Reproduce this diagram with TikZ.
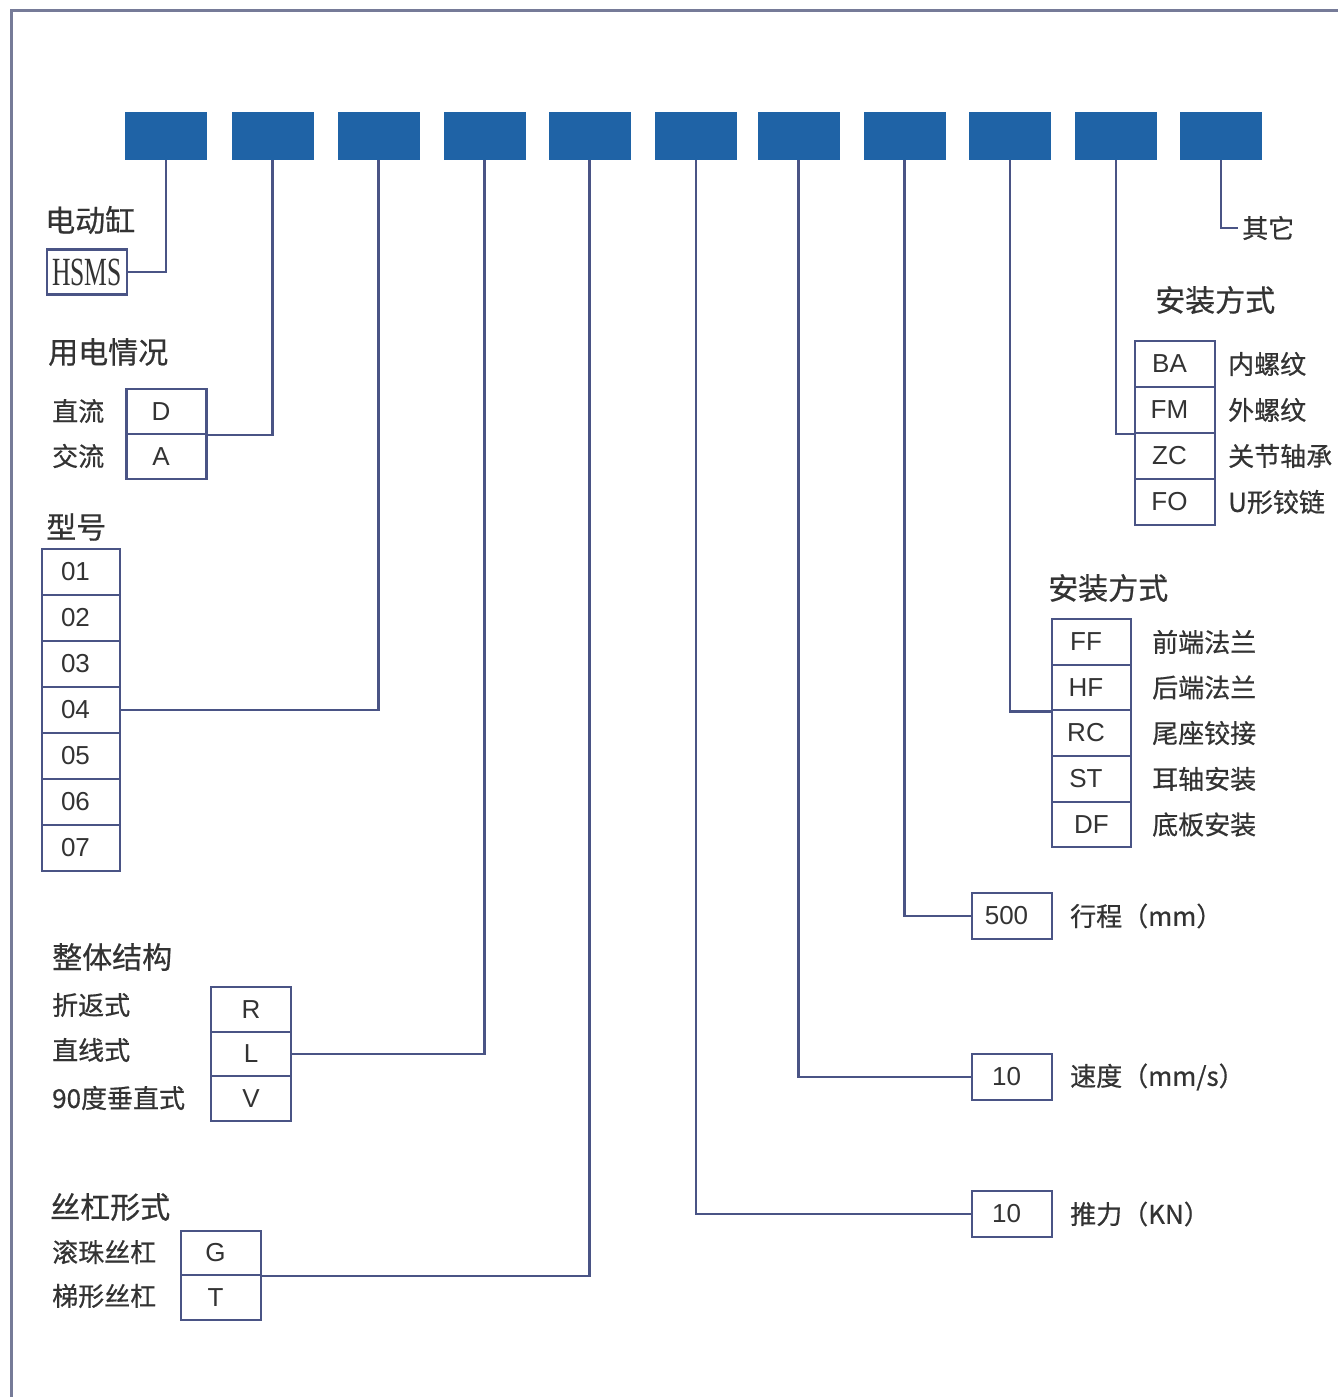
\documentclass[tikz,border=0pt]{standalone}
\usepackage{fontspec}
\usepackage{graphicx}
\setmainfont{Liberation Sans}
\newfontfamily\cjk[FakeBold=0.6]{Noto Sans CJK SC}
\newfontfamily\serifx{Liberation Serif}
\definecolor{blueC}{HTML}{1F63A6}
\definecolor{lineC}{HTML}{4A5485}
\definecolor{frameC}{HTML}{767B98}
\definecolor{txtC}{HTML}{333333}
\begin{document}
\begin{tikzpicture}[x=1pt,y=-1pt,
  blk/.style={fill=blueC, draw=none, minimum width=82pt, minimum height=48pt, inner sep=0pt},
  opt/.style={draw=lineC, line width=2.2pt, fill=white, minimum width=80pt, minimum height=46pt, inner sep=0pt, text=txtC, font=\fontsize{26}{26}\selectfont},
  opts/.style={opt, execute at end node={\hspace*{11pt}}},
  hd/.style={font=\cjk\fontsize{30}{30}\selectfont, text=txtC, anchor=west, inner sep=0pt},
  lb/.style={font=\cjk\fontsize{26}{26}\selectfont, text=txtC, anchor=west, inner sep=0pt},
  conn/.style={draw=lineC, line width=2.2pt}]
\useasboundingbox (0,0) rectangle (1338,1397);
% frame
\draw[frameC, line width=3pt] (11,1397) -- (11,11) -- (1338,11);
% code boxes
\foreach \i/\x in {1/166,2/272.5,3/378.5,4/484.5,5/589.5,6/696,7/798.5,8/904.5,9/1010,10/1116,11/1221}
  \node[blk] (b\i) at (\x,136) {};
% 1 electric cylinder
\node[hd] (h1) at (45,220) {电动缸};
\node[opt, minimum height=45pt, font=\serifx] (hsms) at (87,272) {\scalebox{0.64}[1]{\fontsize{40}{40}\selectfont HSMS}};
% 2 power
\node[hd] (h2) at (48,352) {用电情况};
\node[opts, minimum height=45pt] (D) at (166.5,411.5) {D};
\node[opts, minimum height=45pt] (A) at (166.5,456.5) {A};
\node[lb] (lD) at (52,411) {直流};
\node[lb] (lA) at (52,456) {交流};
% 3 model
\node[hd] (h3) at (46,527) {型号};
\foreach \n/\y in {01/572,02/618,03/664,04/710,05/756,06/802,07/848}
  \node[opts, minimum width=78pt] (m\n) at (81,\y) {\n};
% 4 structure
\node[hd] (h4) at (52,957) {整体结构};
\node[opt, minimum height=44.5pt] (R) at (251,1009.5) {R};
\node[opt, minimum height=44.5pt] (L) at (251,1054) {L};
\node[opt, minimum height=44.5pt] (V) at (251,1098.5) {V};
\node[lb] (lR) at (52,1005) {折返式};
\node[lb] (lL) at (52,1050) {直线式};
\node[lb] (lV) at (52,1098) {90度垂直式};
% 5 screw
\node[hd] (h5) at (50,1207) {丝杠形式};
\node[opts, minimum height=44.5pt] (G) at (221,1253) {G};
\node[opts, minimum height=44.5pt] (T) at (221,1297.5) {T};
\node[lb] (lG) at (52,1252) {滚珠丝杠};
\node[lb] (lT) at (52,1296) {梯形丝杠};
% 6-8 values
\node[opts] (st) at (1012,916) {500};
\node[lb] (lst) at (1070,916) {行程（mm）};
\node[opts] (sp) at (1012,1077) {10};
\node[lb] (lsp) at (1070,1077) {速度（mm/s）};
\node[opts] (kn) at (1012,1214) {10};
\node[lb] (lkn) at (1070,1214) {推力（KN）};
% 9 mounting
\node[hd] (h9) at (1048,588) {安装方式};
\foreach \n/\y/\t in {FF/642/前端法兰,HF/687.5/后端法兰,RC/733/尾座铰接,ST/779/耳轴安装}{
  \node[opts, minimum width=79pt, minimum height=45.6pt] (\n) at (1091.5,\y) {\n};
  \node[lb] (l\n) at (1152,\y) {\t};
}
\node[opt, minimum width=79pt, minimum height=45.6pt] (DF) at (1091.5,824.5) {DF};
\node[lb] (lDF) at (1152,824.5) {底板安装};
% 10 rod end
\node[hd] (h10) at (1155,300) {安装方式};
\foreach \n/\y/\t in {BA/364/内螺纹,FM/410/外螺纹,ZC/456/关节轴承,FO/502/U形铰链}{
  \node[opts] (\n) at (1175,\y) {\n};
  \node[lb] (l\n) at (1228,\y) {\t};
}
% 11 other
\node[lb, inner sep=4pt] (qt) at (1238,228) {其它};
% connectors
\draw[conn] (b1.south) |- (hsms.east);
\draw[conn] (b2.south) |- (D.south east);
\draw[conn] (b3.south) |- (m04.east);
\draw[conn] (b4.south) |- (L.east);
\draw[conn] (b5.south) |- (G.south east);
\draw[conn] (b6.south) |- (kn.west);
\draw[conn] (b7.south) |- (sp.west);
\draw[conn] (b8.south) |- (st.west);
\draw[conn] (b9.south) |- (HF.south west);
\draw[conn] (b10.south) |- (FM.south west);
\draw[conn] (b11.south) |- (qt.west);
\end{tikzpicture}
\end{document}
